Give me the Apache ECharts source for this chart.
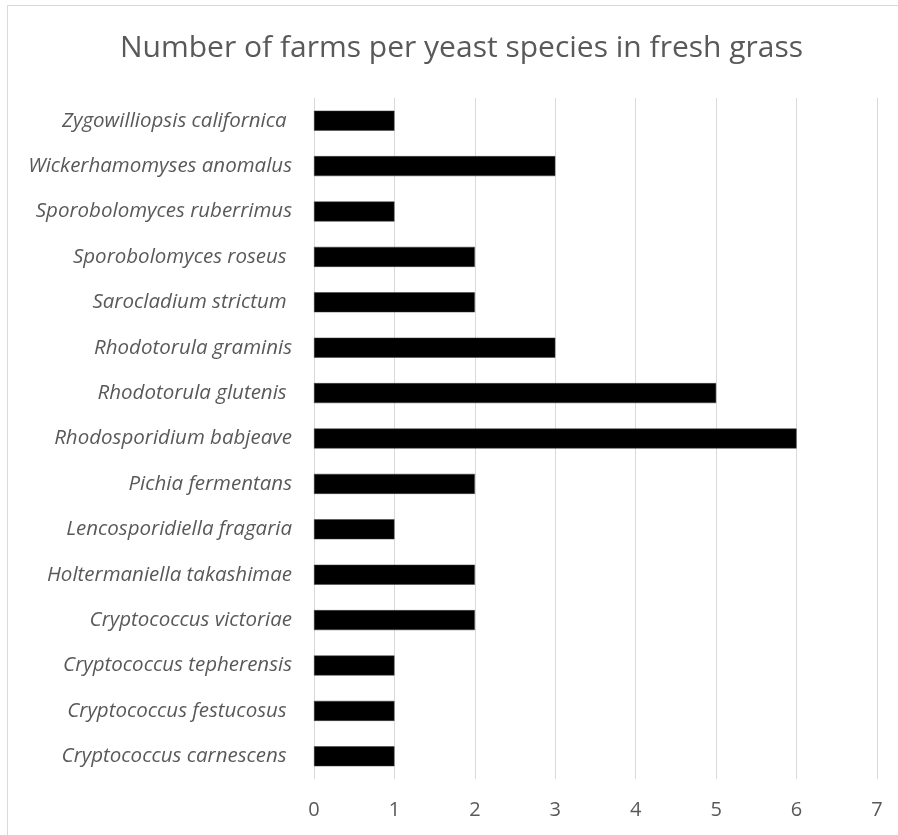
<!DOCTYPE html>
<html>
<head>
<meta charset="utf-8">
<script src="https://cdn.jsdelivr.net/npm/echarts@6/dist/echarts.min.js"></script>
<style>
  html, body { margin: 0; padding: 0; background: #fff; }
  #chart { width: 898px; height: 835px; }
</style>
</head>
<body>
<div id="chart"></div>
<script>
// categories listed bottom to top, like the spreadsheet
const species = [
  'Cryptococcus carnescens ',
  'Cryptococcus festucosus ',
  'Cryptococcus tepherensis',
  'Cryptococcus victoriae',
  'Holtermaniella takashimae',
  'Lencosporidiella fragaria',
  'Pichia fermentans',
  'Rhodosporidium babjeave',
  'Rhodotorula glutenis ',
  'Rhodotorula graminis',
  'Sarocladium strictum ',
  'Sporobolomyces roseus ',
  'Sporobolomyces ruberrimus',
  'Wickerhamomyses anomalus',
  'Zygowilliopsis californica '
];
const farms = [1, 1, 1, 2, 2, 1, 2, 6, 5, 3, 2, 2, 1, 3, 1];
const titleText = 'Number of farms per yeast species in fresh grass';

const chart = echarts.init(document.getElementById('chart'));
chart.setOption({
  animation: false,
  backgroundColor: '#fff',
  // outer chart frame
  graphic: [
    {
      type: 'rect',
      silent: true,
      shape: { x: 7.5, y: 5.5, width: 900, height: 840 },
      style: { fill: 'none', stroke: '#d9d9d9', lineWidth: 1 }
    }
  ],
  title: {
    text: titleText,
    left: 115,
    top: 28,
    textStyle: {
      fontFamily: 'Open Sans',
      fontWeight: 'normal',
      fontSize: 30,
      color: '#595959'
    }
  },
  grid: {
    left: 314,
    right: 21,
    top: 98,
    bottom: 56,
    containLabel: false
  },
  xAxis: {
    type: 'value',
    min: 0,
    max: 7,
    interval: 1,
    axisLine: { show: false },
    axisTick: { show: false },
    axisLabel: {
      margin: 21,
      fontFamily: 'Open Sans',
      fontSize: 20,
      color: '#595959'
    },
    splitLine: { show: true, lineStyle: { color: '#d9d9d9', width: 1 } }
  },
  yAxis: {
    type: 'category',
    data: species,
    axisLine: { show: false },
    axisTick: { show: false },
    axisLabel: {
      margin: 22,
      fontFamily: 'Open Sans',
      fontStyle: 'italic',
      fontSize: 20.5,
      color: '#595959'
    }
  },
  series: [
    {
      type: 'bar',
      data: farms,
      barWidth: 20,
      itemStyle: { color: '#000', borderColor: '#404040', borderWidth: 0.5 }
    }
  ]
});
</script>
</body>
</html>
